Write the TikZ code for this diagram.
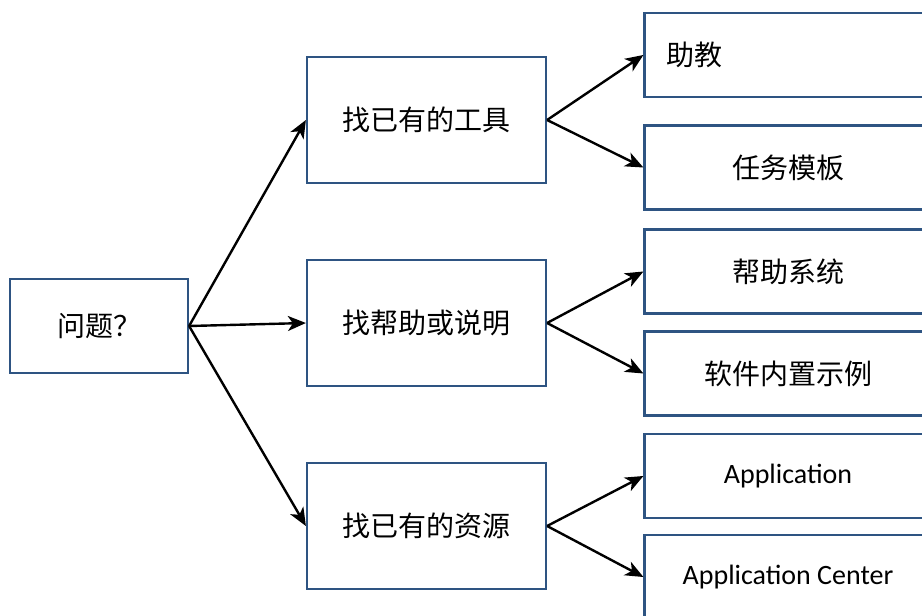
\documentclass[tikz,border=0pt]{standalone}
\usepackage{fontspec}
\setmainfont{Carlito}
\newfontfamily\cjk{Noto Sans CJK SC}
\usetikzlibrary{arrows.meta}
\definecolor{boxblue}{RGB}{46,84,130}

\begin{document}
\begin{tikzpicture}[x=1pt,y=-1pt,>={Stealth[length=18pt,width=15pt,inset=5pt]}]
  \tikzstyle{box}=[rectangle,draw=boxblue,line width=2.2pt,fill=white,
  		   inner sep=0pt,font=\fontsize{28}{32}\selectfont\cjk]
  \tikzstyle{root box}=[box,minimum width=178pt,minimum height=94pt]
  \tikzstyle{mid box}=[box,minimum width=239pt,minimum height=126pt]
  \tikzstyle{leaf box}=[box,minimum width=287pt,minimum height=84pt]
  \tikzstyle{link}=[->,line width=2.4pt,black]

  \useasboundingbox (0,0) rectangle (922,616);

  % left
  \node [root box] (q) at (99,326) {问题？};

  % middle
  \node [mid box] (tool) at (426.5,120) {找已有的工具};
  \node [mid box] (help) at (426.5,323) {找帮助或说明};
  \node [mid box] (res)  at (426.5,526) {找已有的资源};

  % right
  \node [leaf box,text width=243pt,inner xsep=22pt,align=left] (ta) at (788,55) {助教};
  \node [leaf box] (tmpl) at (788,167.5) {任务模板};
  \node [leaf box] (sys)  at (788,271.5) {帮助系统};
  \node [leaf box] (demo) at (788,373.5) {软件内置示例};
  \node [leaf box,font=\fontsize{28}{32}\selectfont] (app) at (788,476) {Application};
  \node [leaf box,font=\fontsize{28}{32}\selectfont] (appc) at (788,577) {Application Center};

  \draw [link] (q.east) -- (tool.west);
  \draw [link] (q.east) -- (help.west);
  \draw [link] (q.east) -- (res.west);

  \draw [link] (tool.east) -- (ta.west);
  \draw [link] (tool.east) -- (tmpl.west);
  \draw [link] (help.east) -- (sys.west);
  \draw [link] (help.east) -- (demo.west);
  \draw [link] (res.east) -- (app.west);
  \draw [link] (res.east) -- (appc.west);
\end{tikzpicture}
\end{document}
